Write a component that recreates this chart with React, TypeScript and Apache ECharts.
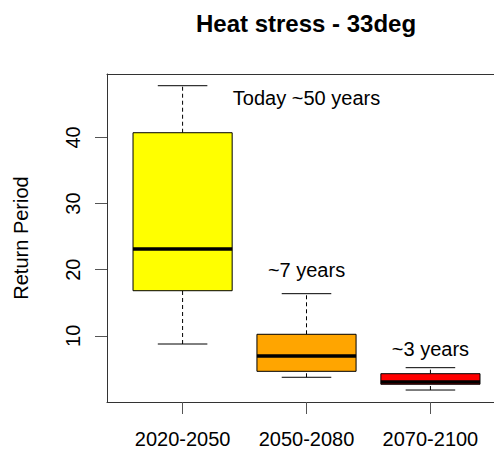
import React, { useEffect, useRef } from "react";
import * as echarts from "echarts";

const categories = ["2020-2050", "2050-2080", "2070-2100"];
const whiskerLow = [8.77, 3.74, 1.81];
const quartile1 = [16.83, 4.64, 2.68];
const medians = [23.14, 6.96, 3.02];
const quartile3 = [40.72, 10.24, 4.28];
const whiskerHigh = [47.83, 16.38, 5.19];
const boxColors = ["#FFFF00", "#FFA500", "#FF0000"];

const annotationTexts = ["Today ~50 years", "~7 years", "~3 years"];
const annotationX = [2, 2, 3];
const annotationY = [46, 20, 8];

const yTickValues = [10, 20, 30, 40];
const xTickValues = [1, 2, 3];

const FONT = "'Liberation Sans', Arial, Helvetica, sans-serif";

export default function App() {
  const ref = useRef<HTMLDivElement>(null);

  useEffect(() => {
    if (!ref.current) return;
    const chart = echarts.init(ref.current, undefined, { renderer: "svg" });

    const boxData = categories.map((_, i) => [
      i + 1,
      whiskerLow[i],
      quartile1[i],
      medians[i],
      quartile3[i],
      whiskerHigh[i],
    ]);
    const annData = annotationTexts.map((t, i) => [annotationX[i], annotationY[i], t]);

    const axisLineStyle = { color: "#333", width: 1 };

    const option: any = {
      animation: false,
      backgroundColor: "#ffffff",
      graphic: [
        {
          type: "text",
          x: 306,
          y: 23,
          style: {
            text: "Heat stress - 33deg",
            font: `bold 24px ${FONT}`,
            fill: "#000",
            textAlign: "center",
            textVerticalAlign: "middle",
          },
        },
      ],
      grid: {
        left: 107,
        right: 0,
        top: 74,
        bottom: 47,
        show: false,
      },
      xAxis: [
        {
          type: "value",
          min: 0.39,
          max: 3.513,
          axisLine: { show: true, lineStyle: axisLineStyle },
          splitLine: { show: false },
          axisTick: {
            show: true,
            length: 12,
            customValues: xTickValues,
            lineStyle: { color: "#555", width: 1 },
          },
          axisLabel: {
            customValues: xTickValues,
            formatter: (v: number) => categories[Math.round(v) - 1] ?? "",
            fontSize: 20,
            fontFamily: FONT,
            color: "#000",
            margin: 27,
          },
        },
        {
          type: "value",
          position: "top",
          min: 0.39,
          max: 3.513,
          axisLine: { show: true, lineStyle: axisLineStyle },
          splitLine: { show: false },
          axisTick: { show: false },
          axisLabel: { show: false },
        },
      ],
      yAxis: {
        type: "value",
        min: 0,
        max: 49.6,
        name: "Return Period",
        nameLocation: "middle",
        nameGap: 76,
        nameRotate: 90,
        nameTextStyle: { fontSize: 20, fontFamily: FONT, color: "#000" },
        axisLine: { show: true, lineStyle: axisLineStyle },
        splitLine: { show: false },
        axisTick: {
          show: true,
          length: 12,
          customValues: yTickValues,
          lineStyle: { color: "#555", width: 1 },
        },
        axisLabel: {
          customValues: yTickValues,
          rotate: 90,
          fontSize: 20,
          fontFamily: FONT,
          color: "#000",
          margin: 24,
        },
      },
      series: [
        {
          type: "custom",
          xAxisIndex: 0,
          data: boxData,
          encode: { x: 0, y: [1, 2, 3, 4, 5] },
          renderItem: (params: any, api: any) => {
            const i = params.dataIndex;
            const x = api.value(0);
            const lo = api.coord([x, api.value(1)]);
            const q1 = api.coord([x, api.value(2)]);
            const med = api.coord([x, api.value(3)]);
            const q3 = api.coord([x, api.value(4)]);
            const hi = api.coord([x, api.value(5)]);
            const boxW = api.size([0.8, 0])[0];
            const capW = api.size([0.4, 0])[0];
            const cx = lo[0];
            const dashStyle = { stroke: "#000", lineWidth: 1, lineDash: [4, 3] };
            const solid = { stroke: "#000", lineWidth: 1 };
            return {
              type: "group",
              children: [
                { type: "line", shape: { x1: cx, y1: q3[1], x2: cx, y2: hi[1] }, style: dashStyle },
                { type: "line", shape: { x1: cx, y1: lo[1], x2: cx, y2: q1[1] }, style: dashStyle },
                { type: "line", shape: { x1: cx - capW / 2, y1: hi[1], x2: cx + capW / 2, y2: hi[1] }, style: solid },
                { type: "line", shape: { x1: cx - capW / 2, y1: lo[1], x2: cx + capW / 2, y2: lo[1] }, style: solid },
                {
                  type: "rect",
                  shape: { x: cx - boxW / 2, y: q3[1], width: boxW, height: q1[1] - q3[1] },
                  style: { fill: boxColors[i], stroke: "#000", lineWidth: 1 },
                },
                {
                  type: "line",
                  shape: { x1: cx - boxW / 2, y1: med[1], x2: cx + boxW / 2, y2: med[1] },
                  style: { stroke: "#000", lineWidth: 3.5 },
                },
              ],
            };
          },
        },
        {
          type: "custom",
          xAxisIndex: 0,
          data: annData,
          encode: { x: 0, y: 1 },
          renderItem: (params: any, api: any) => {
            const p = api.coord([api.value(0), api.value(1)]);
            return {
              type: "text",
              x: p[0],
              y: p[1],
              style: {
                text: annotationTexts[params.dataIndex],
                font: `20px ${FONT}`,
                fill: "#000",
                textAlign: "center",
                textVerticalAlign: "middle",
              },
            };
          },
        },
      ],
    };

    chart.setOption(option);
    return () => chart.dispose();
  }, []);

  return (
    <div
      ref={ref}
      style={{ position: "fixed", left: 0, top: 0, width: 494, height: 449 }}
    />
  );
}
